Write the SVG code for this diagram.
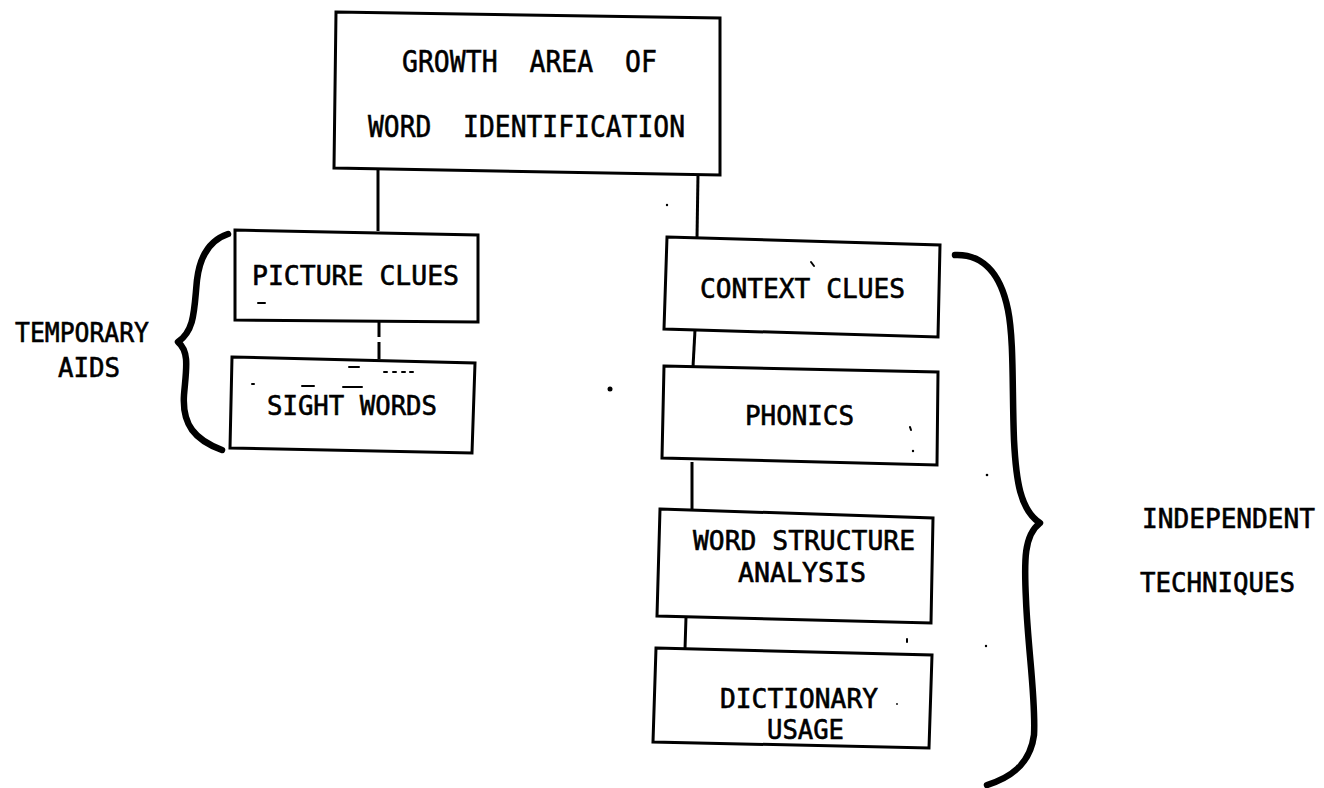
<svg xmlns="http://www.w3.org/2000/svg" width="1324" height="788" viewBox="0 0 1324 788">
  <style>
    .box { fill: #fff; stroke: #000; stroke-width: 3; stroke-linejoin: miter; }
    .link { stroke: #000; stroke-width: 3; fill: none; }
    .brace { stroke: #000; stroke-width: 6.5; fill: none; stroke-linecap: round; stroke-linejoin: round; }
    .lbl { font-family: "DejaVu Sans Mono", "Liberation Mono", monospace; font-size: 26px; fill: #000; stroke: #000; stroke-width: 0.6; }
    .ttl { font-size: 31px; }
    .speck { stroke: #000; stroke-width: 2; fill: none; stroke-linecap: round; }
  </style>
  <rect width="1324" height="788" fill="#fff"/>

  <!-- connectors between boxes -->
  <g id="connectors">
    <line class="link" x1="378" y1="169" x2="378" y2="231"/>
    <line class="link" x1="698" y1="174" x2="697" y2="238"/>
    <line class="link" x1="379" y1="321" x2="379" y2="337"/>
    <line class="link" x1="379" y1="342" x2="379" y2="359"/>
    <line class="link" x1="695" y1="330" x2="693" y2="367"/>
    <line class="link" x1="692" y1="462" x2="692" y2="510"/>
    <line class="link" x1="686" y1="617" x2="685" y2="649"/>
  </g>

  <g id="root">
    <polygon class="box" points="336,12 720,18 720,175 334,168"/>
    <text class="lbl ttl" x="402" y="72" textLength="255" lengthAdjust="spacingAndGlyphs" xml:space="preserve">GROWTH  AREA  OF</text>
    <text class="lbl ttl" x="368" y="137" textLength="317" lengthAdjust="spacingAndGlyphs" xml:space="preserve">WORD  IDENTIFICATION</text>
  </g>

  <g id="picture-clues">
    <polygon class="box" points="235,230 478,235 478,322 235,320"/>
    <text class="lbl" x="252" y="285" textLength="207" lengthAdjust="spacingAndGlyphs">PICTURE CLUES</text>
  </g>

  <g id="sight-words">
    <polygon class="box" points="232,357 475,363 472,453 230,448"/>
    <text class="lbl" x="267" y="415" textLength="170" lengthAdjust="spacingAndGlyphs">SIGHT WORDS</text>
  </g>

  <g id="context-clues">
    <polygon class="box" points="667,237 940,245 938,337 664,329"/>
    <text class="lbl" x="700" y="298" textLength="205" lengthAdjust="spacingAndGlyphs">CONTEXT CLUES</text>
  </g>

  <g id="phonics">
    <polygon class="box" points="664,366 938,372 937,465 662,458"/>
    <text class="lbl" x="745" y="425" textLength="109" lengthAdjust="spacingAndGlyphs">PHONICS</text>
  </g>

  <g id="word-structure">
    <polygon class="box" points="660,509 933,518 931,623 657,616"/>
    <text class="lbl" x="693" y="550" textLength="222" lengthAdjust="spacingAndGlyphs">WORD STRUCTURE</text>
    <text class="lbl" x="738" y="582" textLength="128" lengthAdjust="spacingAndGlyphs">ANALYSIS</text>
  </g>

  <g id="dictionary">
    <polygon class="box" points="656,648 932,655 929,748 653,742"/>
    <text class="lbl" x="720" y="708" textLength="158" lengthAdjust="spacingAndGlyphs">DICTIONARY</text>
    <text class="lbl" x="767" y="739" textLength="77" lengthAdjust="spacingAndGlyphs">USAGE</text>
  </g>

  <g id="temporary-aids">
    <path class="brace" d="M228,234 C210,240 200,255 197,280 C194,310 195,330 178,342 C190,352 186,370 184,395 C182,425 195,440 222,450"/>
    <text class="lbl" x="15" y="342" textLength="134" lengthAdjust="spacingAndGlyphs">TEMPORARY</text>
    <text class="lbl" x="58" y="377" textLength="62" lengthAdjust="spacingAndGlyphs">AIDS</text>
  </g>

  <g id="independent-techniques">
    <path class="brace" d="M955,255 C980,254 1000,270 1008,310 C1014,340 1012,390 1014,440 C1016,480 1020,510 1040,523 C1024,535 1024,560 1026,600 C1028,650 1036,700 1034,735 C1030,765 1010,778 987,785"/>
    <text class="lbl" x="1142" y="528" textLength="173" lengthAdjust="spacingAndGlyphs">INDEPENDENT</text>
    <text class="lbl" x="1140" y="592" textLength="155" lengthAdjust="spacingAndGlyphs">TECHNIQUES</text>
  </g>

  <!-- stray print marks -->
  <g id="marks">
    <line class="speck" x1="258" y1="303" x2="265" y2="303"/>
    <line class="speck" x1="349" y1="367" x2="359" y2="367"/>
    <line class="speck" x1="384" y1="372" x2="387" y2="372"/>
    <line class="speck" x1="393" y1="372" x2="396" y2="372"/>
    <line class="speck" x1="402" y1="372" x2="405" y2="372"/>
    <line class="speck" x1="410" y1="372" x2="413" y2="372"/>
    <line class="speck" x1="252" y1="384" x2="254" y2="384"/>
    <line class="speck" x1="302" y1="386" x2="314" y2="386"/>
    <line class="speck" x1="343" y1="387" x2="362" y2="387"/>
    <line class="speck" x1="811" y1="262" x2="814" y2="266"/>
    <line class="speck" x1="910" y1="427" x2="911" y2="430"/>
    <line class="speck" x1="907" y1="639" x2="907" y2="642"/>
    <circle cx="610" cy="389" r="2.5"/>
    <circle cx="913" cy="451" r="1.2"/>
    <circle cx="987" cy="475" r="1.3"/>
    <circle cx="986" cy="646" r="1.2"/>
    <circle cx="897" cy="704" r="0.9"/>
    <circle cx="667" cy="205" r="1.2"/>
  </g>
</svg>
